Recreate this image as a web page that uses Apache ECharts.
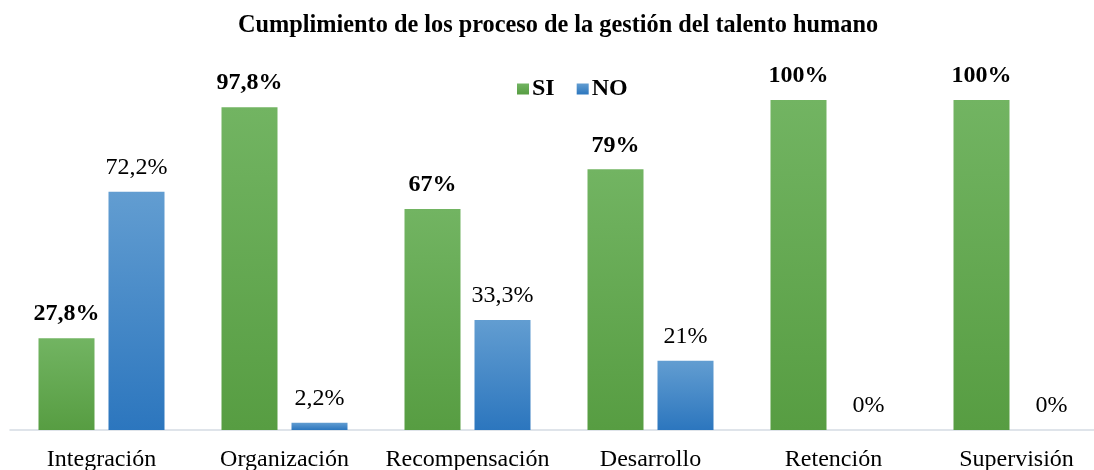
<!DOCTYPE html>
<html>
<head>
<meta charset="utf-8">
<script src="https://cdn.jsdelivr.net/npm/echarts@6/dist/echarts.min.js"></script>
<style>
  html, body { margin: 0; padding: 0; background: #fff; overflow: hidden; }
  #wrap { width: 1094px; height: 470px; overflow: hidden; position: relative; }
  /* un poco más ancho que la ventana: la última categoría queda recortada */
  #chart { width: 1108px; height: 470px; position: absolute; left: 0; top: 0; }
</style>
</head>
<body>
<div id="wrap"><div id="chart"></div></div>
<script>
// datos del gráfico
const categories = ["Integración", "Organización", "Recompensación", "Desarrollo", "Retención", "Supervisión"];
const siValues = [27.8, 97.8, 67, 79, 100, 100];
const noValues = [72.2, 2.2, 33.3, 21, 0, 0];
const siLabels = ["27,8%", "97,8%", "67%", "79%", "100%", "100%"];
const noLabels = ["72,2%", "2,2%", "33,3%", "21%", "0%", "0%"];

const serif = "'Liberation Serif', 'Times New Roman', serif";

const chart = echarts.init(document.getElementById("chart"));

const option = {
  animation: false,
  title: {
    text: "Cumplimiento de los proceso de la gestión del talento humano",
    left: 233,
    top: 9,
    textStyle: { fontFamily: serif, fontSize: 24.3, fontWeight: "bold", color: "#000" },
  },
  legend: {
    data: ["SI", "NO"],
    left: 512,
    top: 72,
    icon: "rect",
    itemWidth: 12,
    itemHeight: 11,
    itemGap: 22,
    textStyle: { fontFamily: serif, fontSize: 24, fontWeight: "bold", color: "#000", padding: [0, 0, 0, -2] },
  },
  grid: { left: 10, right: 0, top: 100, bottom: 40, containLabel: false, outerBoundsMode: "none" },
  xAxis: {
    type: "category",
    data: categories,
    axisLine: { lineStyle: { color: "#d5dce4", width: 1.5 } },
    axisTick: { show: false },
    axisLabel: { fontFamily: serif, fontSize: 24, color: "#000", margin: 18, interval: 0 },
  },
  yAxis: {
    type: "value",
    min: 0,
    max: 100,
    show: false,
    splitLine: { show: false },
  },
  series: [
    {
      name: "SI",
      type: "bar",
      data: siValues,
      barWidth: 56,
      barGap: "25%",
      itemStyle: {
        color: new echarts.graphic.LinearGradient(0, 0, 0, 1, [
          { offset: 0, color: "#72b462" },
          { offset: 1, color: "#579d42" },
        ]),
      },
      label: {
        show: true,
        position: "top",
        distance: 12,
        formatter: (p) => siLabels[p.dataIndex],
        fontFamily: serif,
        fontSize: 24,
        fontWeight: "bold",
        color: "#000",
      },
    },
    {
      name: "NO",
      type: "bar",
      data: noValues,
      barWidth: 56,
      itemStyle: {
        color: new echarts.graphic.LinearGradient(0, 0, 0, 1, [
          { offset: 0, color: "#629dd1" },
          { offset: 1, color: "#2c76be" },
        ]),
      },
      label: {
        show: true,
        position: "top",
        distance: 12,
        formatter: (p) => noLabels[p.dataIndex],
        fontFamily: serif,
        fontSize: 24,
        color: "#000",
      },
    },
  ],
};

chart.setOption(option);
</script>
</body>
</html>
